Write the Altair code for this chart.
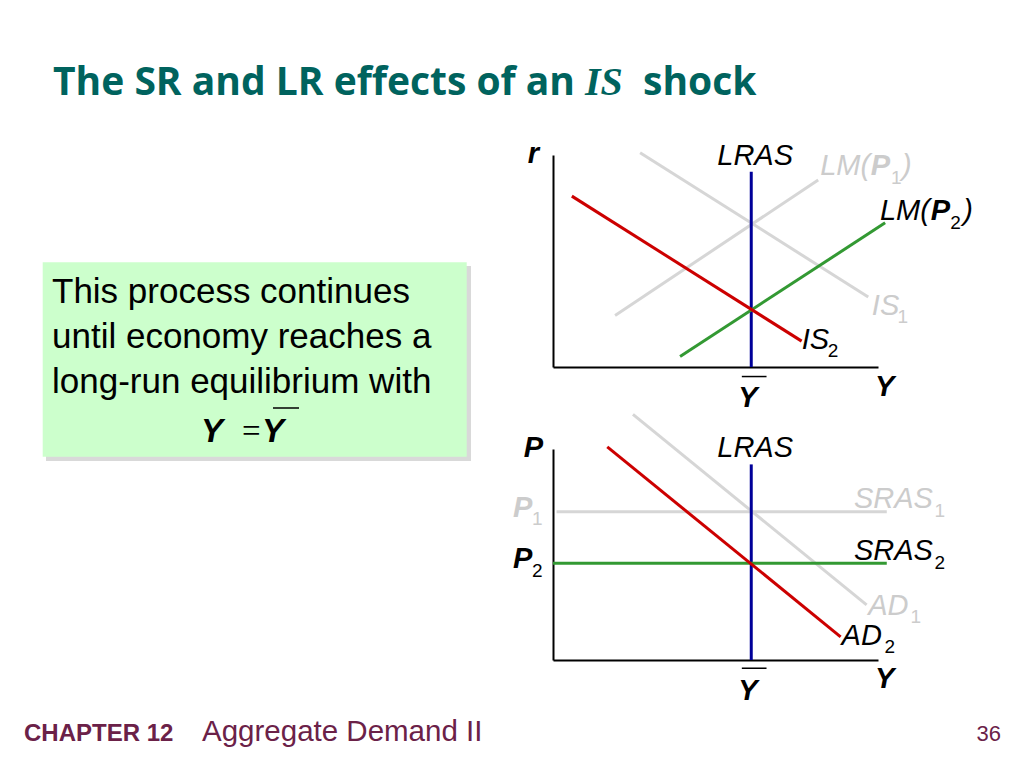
import altair as alt
import pandas as pd

# ---------------- text content ----------------
TITLE_PARTS = ["The SR and LR effects of an", "IS", "shock"]
BOX_LINES = ["This process continues", "until economy reaches a", "long-run equilibrium with"]
FOOTER_PARTS = ["CHAPTER 12", "Aggregate Demand II", "36"]

# ---------------- diagram data (diagram units, 0..10 on each axis) ----------------
Y_BAR = 6.1
# IS-LM panel: output Y vs interest rate r
IS1_Y = [2.68, 9.70]
IS1_R = [10.11, 3.30]
IS2_Y = [0.58, 7.65]
IS2_R = [8.06, 1.22]
LM1_Y = [1.91, 8.16]
LM1_R = [2.43, 8.82]
LM2_Y = [3.91, 10.22]
LM2_R = [0.50, 6.80]
LRAS_R = [0.0, 9.21]
# AS-AD panel: output Y vs price level P
AD1_Y = [2.46, 9.65]
AD1_P = [11.64, 2.61]
AD2_Y = [1.67, 8.85]
AD2_P = [10.10, 1.10]
P1 = 7.03
P2 = 4.58
SRAS1_Y = [0.11, 10.27]
SRAS2_Y = [0.0, 10.27]
LRAS_P = [0.0, 9.27]

# ---------------- styles ----------------
SANS = "Liberation Sans"
SERIF = "Liberation Serif"
TITLE_FONT = "Open Sans"
TEAL = "#00635e"
MAROON = "#6b2148"
RED = "#cc0000"
GREEN = "#339933"
BLUE = "#000099"
GRAY = "#d6d6d6"
GRAY_TXT = "#cccccc"
BLACK = "#000000"
LBL = 29   # diagram label size
SUB = 19   # subscript size

AX = alt.Axis(domain=True, domainColor=BLACK, domainWidth=2, ticks=False,
              labels=False, grid=False, title=None)


def text_layers(df, sx, sy, axis, font=SANS):
    layers = []
    for (style, weight, align), sub in df.groupby(["style", "weight", "align"]):
        layers.append(
            alt.Chart(sub.reset_index(drop=True)).mark_text(
                font=font, fontStyle=style, fontWeight=weight, align=align,
                baseline="alphabetic", clip=False
            ).encode(
                x=alt.X("x:Q", scale=sx, axis=axis),
                y=alt.Y("y:Q", scale=sy, axis=axis),
                text="text:N",
                color=alt.Color("color:N", scale=None),
                size=alt.Size("size:Q", scale=None),
            )
        )
    return layers


def lab(rows):
    return pd.DataFrame(rows, columns=["text", "x", "y", "style", "weight", "size", "color", "align"])


def panel(curves, labels, bars, width, height):
    sx = alt.Scale(domain=[0, 10], nice=False, zero=False)
    sy = alt.Scale(domain=[0, 10], nice=False, zero=False)
    layers = []
    for xs, ys, color in curves:
        d = pd.DataFrame({"x": xs, "y": ys})
        layers.append(
            alt.Chart(d).mark_line(color=color, strokeWidth=3, clip=False).encode(
                x=alt.X("x:Q", scale=sx, axis=AX), y=alt.Y("y:Q", scale=sy, axis=AX)
            )
        )
    bdf = pd.DataFrame(bars, columns=["x", "x2", "y"])
    layers.append(
        alt.Chart(bdf).mark_rule(color=BLACK, strokeWidth=1.5).encode(
            x=alt.X("x:Q", scale=sx, axis=AX), x2="x2:Q", y=alt.Y("y:Q", scale=sy, axis=AX)
        )
    )
    layers += text_layers(labels, sx, sy, AX)
    return alt.layer(*layers).properties(width=width, height=height)


# ---------------- upper panel: IS-LM ----------------
upper_curves = [
    (IS1_Y, IS1_R, GRAY),
    (LM1_Y, LM1_R, GRAY),
    ([Y_BAR, Y_BAR], LRAS_R, BLUE),
    (LM2_Y, LM2_R, GREEN),
    (IS2_Y, IS2_R, RED),
]
upper_labels = lab([
    ("r", -0.6, 9.62, "italic", "bold", LBL, BLACK, "center"),
    ("LRAS", 6.22, 9.53, "italic", "normal", LBL, BLACK, "center"),
    ("LM(", 8.22, 9.05, "italic", "normal", LBL, GRAY_TXT, "left"),
    ("P", 9.78, 9.05, "italic", "bold", LBL, GRAY_TXT, "left"),
    ("1", 10.40, 8.63, "normal", "normal", SUB, GRAY_TXT, "left"),
    (")", 10.74, 9.05, "italic", "normal", LBL, GRAY_TXT, "left"),
    ("LM(", 10.06, 6.93, "italic", "normal", LBL, BLACK, "left"),
    ("P", 11.62, 6.93, "italic", "bold", LBL, BLACK, "left"),
    ("2", 12.22, 6.49, "normal", "normal", SUB, BLACK, "left"),
    (")", 12.62, 6.93, "italic", "normal", LBL, BLACK, "left"),
    ("IS", 9.81, 2.43, "italic", "normal", LBL, GRAY_TXT, "left"),
    ("1", 10.60, 2.07, "normal", "normal", SUB, GRAY_TXT, "left"),
    ("IS", 7.65, 0.86, "italic", "normal", LBL, BLACK, "left"),
    ("2", 8.45, 0.46, "normal", "normal", SUB, BLACK, "left"),
    ("Y", 6.0, -1.90, "italic", "bold", LBL, BLACK, "center"),
    ("Y", 9.91, -1.35, "italic", "bold", LBL, BLACK, "left"),
])
upper = panel(upper_curves, upper_labels, [(5.81, 6.57, -0.45)], 325, 212)

# ---------------- lower panel: AS-AD ----------------
lower_curves = [
    (AD1_Y, AD1_P, GRAY),
    (SRAS1_Y, [P1, P1], GRAY),
    ([Y_BAR, Y_BAR], LRAS_P, BLUE),
    (SRAS2_Y, [P2, P2], GREEN),
    (AD2_Y, AD2_P, RED),
]
lower_labels = lab([
    ("P", -0.6, 9.61, "italic", "bold", LBL, BLACK, "center"),
    ("LRAS", 6.22, 9.61, "italic", "normal", LBL, BLACK, "center"),
    ("P", -1.23, 6.79, "italic", "bold", LBL, GRAY_TXT, "left"),
    ("1", -0.65, 6.40, "normal", "normal", SUB, GRAY_TXT, "left"),
    ("P", -1.23, 4.35, "italic", "bold", LBL, BLACK, "left"),
    ("2", -0.65, 3.95, "normal", "normal", SUB, BLACK, "left"),
    ("SRAS", 9.26, 7.19, "italic", "normal", LBL, GRAY_TXT, "left"),
    ("1", 11.74, 6.79, "normal", "normal", SUB, GRAY_TXT, "left"),
    ("SRAS", 9.26, 4.74, "italic", "normal", LBL, BLACK, "left"),
    ("2", 11.74, 4.31, "normal", "normal", SUB, BLACK, "left"),
    ("AD", 9.70, 2.13, "italic", "normal", LBL, GRAY_TXT, "left"),
    ("1", 11.00, 1.77, "normal", "normal", SUB, GRAY_TXT, "left"),
    ("AD", 8.88, 0.71, "italic", "normal", LBL, BLACK, "left"),
    ("2", 10.20, 0.32, "normal", "normal", SUB, BLACK, "left"),
    ("Y", 6.0, -1.90, "italic", "bold", LBL, BLACK, "center"),
    ("Y", 9.91, -1.34, "italic", "bold", LBL, BLACK, "left"),
])
lower = panel(lower_curves, lower_labels, [(5.81, 6.57, -0.39)], 325, 211)

# spacer that pushes the diagrams below the slide title
spacer = alt.Chart(pd.DataFrame({"x": [0]})).mark_point(opacity=0).encode(
    x=alt.X("x:Q", axis=None), y=alt.Y("x:Q", axis=None)
).properties(width=325, height=65)

# ---------------- slide panel (title, text box, footer) in page pixels ----------------
sx_page = alt.Scale(domain=[8, 553], nice=False, zero=False)
sy_page = alt.Scale(domain=[760, 8], nice=False, zero=False)


def page_text(texts, xs, ys, **mark):
    return alt.Chart(pd.DataFrame({"text": texts, "x": xs, "y": ys})).mark_text(
        baseline="alphabetic", clip=False, **mark
    ).encode(
        x=alt.X("x:Q", scale=sx_page, axis=None),
        y=alt.Y("y:Q", scale=sy_page, axis=None),
        text="text:N",
    )


box = pd.DataFrame({"x": [46.0, 42.7], "x2": [471.0, 466.7], "y": [266.0, 262.3], "y2": [461.0, 456.7],
                    "fill": ["#b9b9b9", "#ccffcc"], "op": [0.55, 1.0]})
slide_layers = [
    page_text([TITLE_PARTS[0], TITLE_PARTS[2]], [53, 643], [95, 95],
              font=TITLE_FONT, fontWeight="bold", fontSize=39, color=TEAL, align="left"),
    page_text([TITLE_PARTS[1]], [585], [95],
              font=SERIF, fontWeight="bold", fontStyle="italic", fontSize=40, color=TEAL, align="left"),
    alt.Chart(box).mark_rect().encode(
        x=alt.X("x:Q", scale=sx_page, axis=None), x2="x2:Q",
        y=alt.Y("y:Q", scale=sy_page, axis=None), y2="y2:Q",
        color=alt.Color("fill:N", scale=None), opacity=alt.Opacity("op:Q", scale=None)),
    page_text(BOX_LINES, [52, 52, 52], [303, 348, 393],
              font=SANS, fontSize=35, color=BLACK, align="left"),
    page_text(["Y", "Y"], [201, 262], [442, 442],
              font=SANS, fontSize=33, fontWeight="bold", fontStyle="italic", color=BLACK, align="left"),
    page_text(["="], [242], [442], font=SERIF, fontSize=33, color=BLACK, align="left"),
    alt.Chart(pd.DataFrame({"x": [273.0], "x2": [299.0], "y": [408.0]}))
    .mark_rule(color=BLACK, strokeWidth=1.5)
    .encode(x=alt.X("x:Q", scale=sx_page, axis=None), x2="x2:Q", y=alt.Y("y:Q", scale=sy_page, axis=None)),
    page_text([FOOTER_PARTS[0]], [24], [741], font=SANS, fontWeight="bold", fontSize=24, color=MAROON, align="left"),
    page_text([FOOTER_PARTS[1]], [202], [741], font=SANS, fontSize=29.5, color=MAROON, align="left"),
    page_text([FOOTER_PARTS[2]], [1001], [741], font=SANS, fontSize=22, color=MAROON, align="right"),
]
slide = alt.layer(*slide_layers).properties(width=545, height=752)

right = alt.vconcat(spacer, upper, lower, spacing=82, bounds="flush")
chart = (
    alt.hconcat(slide, right, spacing=0, bounds="flush")
    .properties(padding=0, background="white")
    .configure_view(stroke=None)
)

chart.save("out.html", embed_options={"renderer": "svg", "actions": False})
